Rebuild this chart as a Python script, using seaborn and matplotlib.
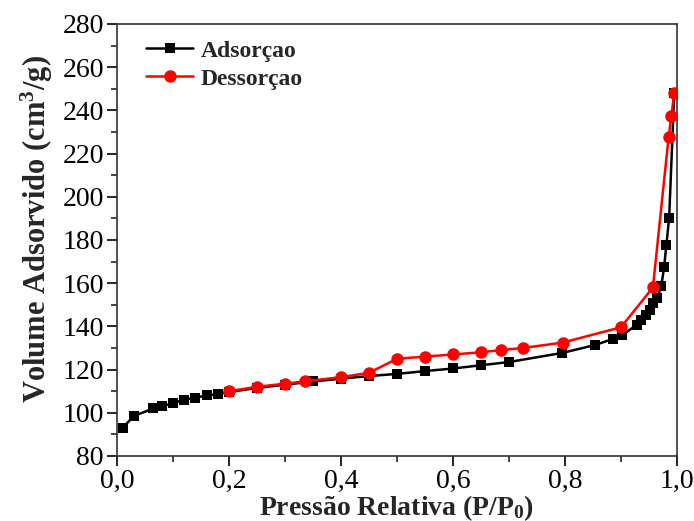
import matplotlib
matplotlib.use("Agg")
import matplotlib.pyplot as plt
import seaborn as sns
import pandas as pd
from matplotlib.ticker import MultipleLocator

ads_x = [0.01, 0.03, 0.065, 0.08, 0.10, 0.12, 0.14, 0.16, 0.18, 0.20, 0.25, 0.30, 0.35,
         0.40, 0.45, 0.50, 0.55, 0.60, 0.65, 0.70, 0.795, 0.854, 0.886, 0.902, 0.928,
         0.936, 0.944, 0.951, 0.958, 0.965, 0.972, 0.977, 0.981, 0.986, 0.995]
ads_y = [93, 98.5, 102, 103, 104.5, 106, 107, 108, 108.7, 109.6, 111.5, 113, 114.5,
         115.8, 117, 118, 119.3, 120.5, 122, 123.5, 127.7, 131.4, 134.2, 136, 140.6,
         143, 145.3, 147.6, 150.7, 153.3, 158.8, 167.4, 177.7, 190.3, 248]

des_x = [0.995, 0.99, 0.985, 0.957, 0.90, 0.796, 0.725, 0.685, 0.65, 0.60, 0.55, 0.50,
         0.45, 0.40, 0.335, 0.30, 0.25, 0.20]
des_y = [248, 237.5, 227.5, 158, 139.6, 132.5, 130, 129, 128, 127, 126, 125,
         118.5, 116.5, 114.5, 113.5, 112, 110]

x_ticks = [0.0, 0.2, 0.4, 0.6, 0.8, 1.0]
x_tick_labels = ["0,0", "0,2", "0,4", "0,6", "0,8", "1,0"]

sns.set_style("ticks")
plt.rcParams['font.family'] = ['Liberation Serif', 'DejaVu Serif']
plt.rcParams['mathtext.fontset'] = 'custom'
plt.rcParams['mathtext.rm'] = 'Liberation Serif:bold'
plt.rcParams['mathtext.bf'] = 'Liberation Serif:bold'
plt.rcParams['mathtext.it'] = 'Liberation Serif:bold'

fig = plt.figure(figsize=(6.94, 5.21), dpi=100)
ax = fig.add_axes([0.1686, 0.1248, 0.8069, 0.8292])

df_a = pd.DataFrame({"x": ads_x, "y": ads_y})
df_d = pd.DataFrame({"x": des_x, "y": des_y})

sns.lineplot(data=df_a, x="x", y="y", ax=ax, color="black", marker="s", markersize=7.5,
             markeredgewidth=0, linewidth=1.8, sort=False, label="Adsorçao", zorder=2)
sns.lineplot(data=df_d, x="x", y="y", ax=ax, color="red", marker="o", markersize=9,
             markeredgewidth=0, linewidth=1.8, sort=False, label="Dessorçao", zorder=3)

ax.set_xlim(0, 1.0)
ax.set_ylim(80, 280)
ax.set_xticks(x_ticks)
ax.set_xticklabels(x_tick_labels)
ax.xaxis.set_minor_locator(MultipleLocator(0.1))
ax.yaxis.set_major_locator(MultipleLocator(20))
ax.yaxis.set_minor_locator(MultipleLocator(10))
ax.tick_params(which='major', direction='out', length=7, width=1.2, labelsize=20,
               colors='black', pad=2.5)
ax.tick_params(which='minor', direction='out', length=4.5, width=1.2)
for s in ax.spines.values():
    s.set_linewidth(1.2)
    s.set_color('#333333')

ax.set_xlabel("Pressão Relativa (P/P$_\\mathbf{0}$)", fontsize=20, fontweight='bold', labelpad=-1)
ax.set_ylabel("Volume Adsorvido (cm$^\\mathbf{3}$/g)", fontsize=22, fontweight='bold')
ax.yaxis.set_label_coords(-0.111, 0.525)

leg = ax.legend(loc='upper left', bbox_to_anchor=(0.0143, 1.012), frameon=False,
                prop={'family': 'Liberation Serif', 'weight': 'bold', 'size': 17},
                handlelength=2.0, handletextpad=0.3, labelspacing=0.28)

fig.savefig("out.png", dpi=100)
